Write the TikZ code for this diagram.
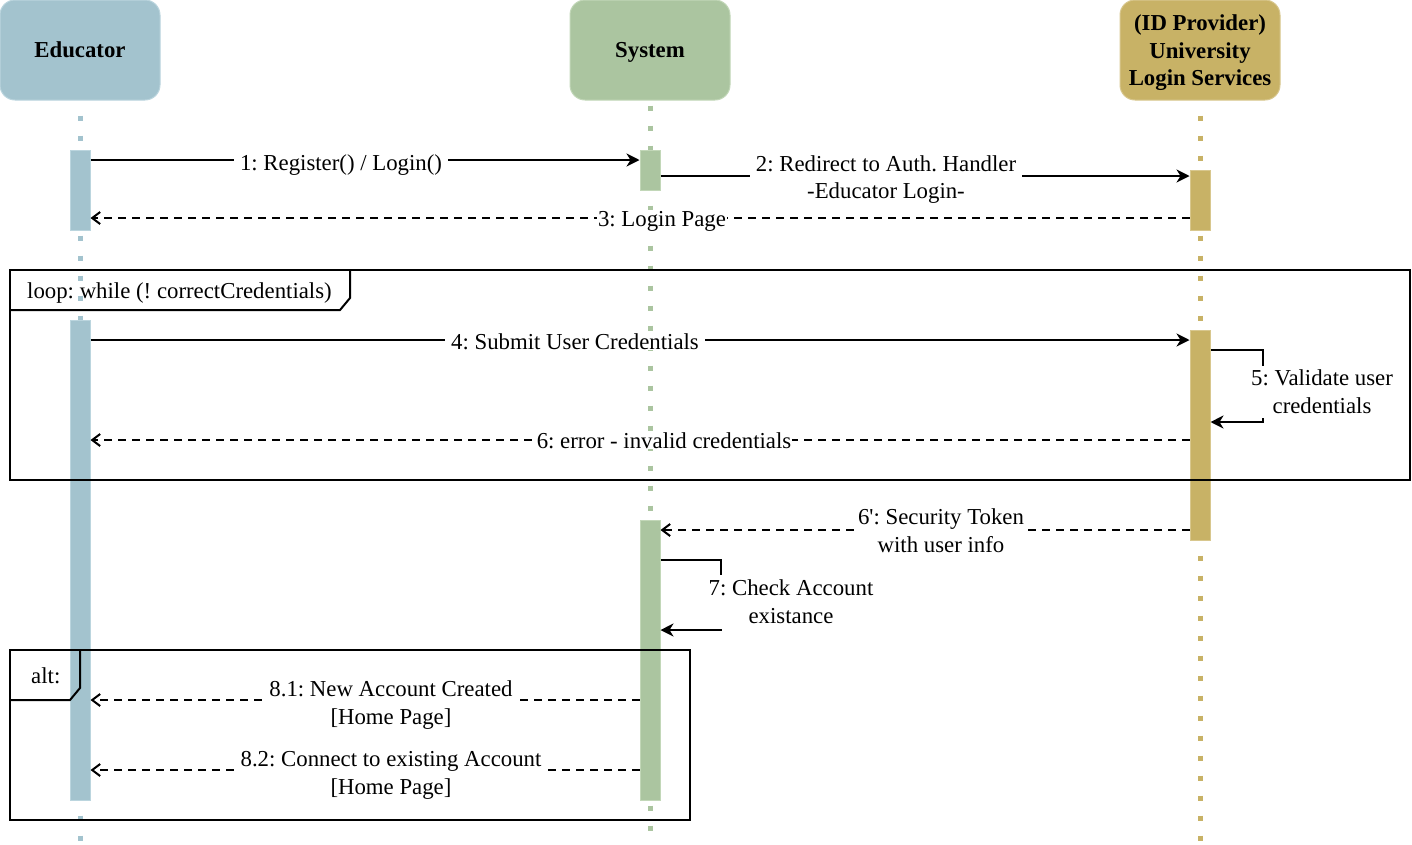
\documentclass[tikz,border=0pt]{standalone}
\usepackage{fontspec}
\setmainfont{Liberation Serif}
\usetikzlibrary{arrows.meta}
\definecolor{edu}{HTML}{A3C3CE}
\definecolor{edub}{HTML}{BBD5DE}
\definecolor{sys}{HTML}{ABC5A0}
\definecolor{sysb}{HTML}{C2D7B8}
\definecolor{idp}{HTML}{C8B266}
\definecolor{idpb}{HTML}{D8C78E}
\begin{document}
\begin{tikzpicture}[x=1pt,y=-1pt,
  font=\fontsize{22.8pt}{27.8pt}\selectfont\frenchspacing,
  head/.style={rectangle, rounded corners=15pt, minimum width=160pt, minimum height=100pt,
    line width=1pt, inner sep=0pt},
  headtxt/.style={align=center, inner sep=0pt,
    font=\fontsize{22.8pt}{27.4pt}\selectfont\bfseries\frenchspacing},
  life/.style={line width=5pt, dash pattern=on 5pt off 15pt},
  actbar/.style={rectangle, minimum width=20pt, inner sep=0pt, line width=1pt, anchor=north},
  msg/.style={line width=2pt, -{Stealth[length=13pt,width=13pt,inset=4pt]}},
  ret/.style={line width=2pt, dash pattern=on 8pt off 6pt, -{Straight Barb[length=8pt,width=12pt,line width=2pt]}},
  lbl/.style={fill=white, inner xsep=6pt, inner ysep=1pt, align=center},
  tight/.style={fill=white, inner xsep=1pt, inner ysep=1pt, align=center},
  framebox/.style={line width=2pt, draw=black}
]
\useasboundingbox (0,0) rectangle (1412,844);

% headers
\node[head, fill=edu, draw=edub] (edu) at (80,50) {};
\node[head, fill=sys, draw=sysb] (sys) at (650,50) {};
\node[head, fill=idp, draw=idpb] (idp) at (1200,50) {};
\node[headtxt, anchor=base] (eduT) at (80,57.5) {Educator};
\node[headtxt, anchor=base] (sysT) at (650,57.5) {System};
\node[headtxt] (idpT) at (1200,52.7) {(ID Provider)\\University\\Login Services};

% lifelines
\coordinate (eduend) at (80,844);
\coordinate (sysend) at (650,844);
\coordinate (idpend) at (1200,844);
\draw[life, draw=edu] ([yshift=-15pt]edu.south) -- (eduend);
\draw[life, draw=sys] ([yshift=-5pt]sys.south) -- (sysend);
\draw[life, draw=idp] ([yshift=-15pt]idp.south) -- (idpend);

% activation bars
\node[actbar, fill=edu, draw=edub, minimum height=80pt] (e1) at (80,150) {};
\node[actbar, fill=edu, draw=edub, minimum height=480pt] (e2) at (80,320) {};
\node[actbar, fill=sys, draw=sysb, minimum height=40pt] (s1) at (650,150) {};
\node[actbar, fill=sys, draw=sysb, minimum height=280pt] (s2) at (650,520) {};
\node[actbar, fill=idp, draw=idpb, minimum height=60pt] (p1) at (1200,170) {};
\node[actbar, fill=idp, draw=idpb, minimum height=210pt] (p2) at (1200,330) {};

% 1
\draw[msg] ([yshift=-10pt]e1.north east) -- ([yshift=-10pt]s1.north west);
\node[lbl, anchor=base] (l1) at (341,170) {1: Register() / Login()};
% 2
\draw[msg] ([yshift=-26pt]s1.north east) -- ([yshift=-6pt]p1.north west);
\node[lbl] (l2) at (886,179.5) {2: Redirect to Auth. Handler\\-Educator Login-};
% 3
\draw[ret] ([yshift=-48pt]p1.north west) -- ([yshift=-68pt]e1.north east);
\node[tight, anchor=base] (l3) at (662,226) {3: Login Page};
% 4
\draw[msg] ([yshift=-20pt]e2.north east) -- ([yshift=-10pt]p2.north west);
\node[lbl, anchor=base] (l4) at (575,349) {4: Submit User Credentials};
% 5
\draw[msg] ([yshift=-20pt]p2.north east) -- ++(52,0) |- ([yshift=-92pt]p2.north east);
\node[lbl, inner xsep=2pt, inner ysep=4pt] (l5) at (1322,392) {5: Validate user\\credentials};
% 6
\draw[ret] ([yshift=-110pt]p2.north west) -- ([yshift=-120pt]e2.north east);
\node[tight, anchor=base] (l6) at (664,448) {6: error - invalid credentials};
% 6'
\draw[ret] ([yshift=-200pt]p2.north west) -- ([yshift=-10pt]s2.north east);
\node[lbl, inner xsep=3pt] (l6b) at (941,531) {6\textquotesingle: Security Token\\with user info};
% 7
\draw[msg] ([yshift=-40pt]s2.north east) -- ++(60,0) |- ([yshift=-110pt]s2.north east);
\node[lbl, inner xsep=2pt, inner ysep=5pt] (l7) at (791,602) {7: Check Account\\existance};
% 8.1
\draw[ret] ([yshift=-180pt]s2.north west) -- ([yshift=-380pt]e2.north east);
\node[lbl, inner xsep=3pt] (l81) at (391,705) {8.1: New Account Created\\{[Home Page]}};
% 8.2
\draw[ret] ([yshift=-250pt]s2.north west) -- ([yshift=-450pt]e2.north east);
\node[lbl, inner xsep=3pt] (l82) at (391,775) {8.2: Connect to existing Account\\{[Home Page]}};

% loop frame
\draw[framebox] (10,270) rectangle (1410,480);
\draw[framebox] (10,310) -- (340,310) -- (350,298) -- (350,270);
\node[anchor=base west, inner sep=0pt] (looplbl) at (27,298.5) {loop: while (! correctCredentials)};

% alt frame
\draw[framebox] (10,650) rectangle (690,820);
\draw[framebox] (10,700) -- (70,700) -- (80,688) -- (80,650);
\node[anchor=base west, inner sep=0pt] (altlbl) at (31,683) {alt:};
\end{tikzpicture}
\end{document}
